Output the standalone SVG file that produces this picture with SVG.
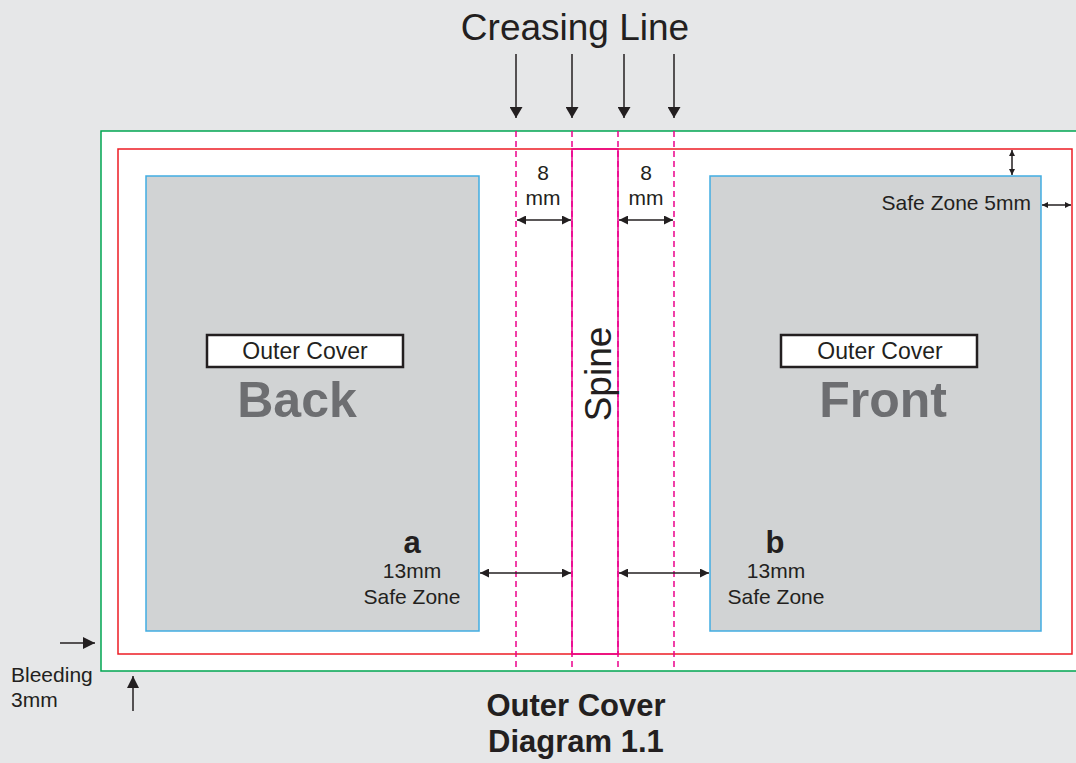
<svg xmlns="http://www.w3.org/2000/svg" width="1076" height="763" viewBox="0 0 1076 763">
<defs>
<style>
text{font-family:"Liberation Sans",Arial,sans-serif;fill:#231f20}
.lbl{font-size:21px}
.b{font-weight:bold}
.big{font-size:50px;font-weight:bold;fill:#6d6e71}
.dash{stroke:#ec008c;stroke-width:1.5;stroke-dasharray:6 4;fill:none}
.dim{stroke:#231f20;stroke-width:1.5;fill:none}
.panel{fill:#d1d3d4;stroke:#41ade2;stroke-width:1.5}
.box{fill:#ffffff;stroke:#231f20;stroke-width:2.5}
</style>
<marker id="big" viewBox="0 0 12 12" refX="12" refY="6" markerWidth="12" markerHeight="12" markerUnits="userSpaceOnUse" orient="auto"><path d="M0,0 L12,6 L0,12 Z" fill="#231f20"/></marker>
<marker id="bigv" viewBox="0 0 11 13" refX="11" refY="6.5" markerWidth="11" markerHeight="13" markerUnits="userSpaceOnUse" orient="auto"><path d="M0,0 L11,6.5 L0,13 Z" fill="#231f20"/></marker>
<marker id="sm" viewBox="0 0 9 9" refX="9" refY="4.5" markerWidth="9" markerHeight="9" markerUnits="userSpaceOnUse" orient="auto"><path d="M0,0 L9,4.5 L0,9 Z" fill="#231f20"/></marker>
<marker id="sms" viewBox="0 0 9 9" refX="0" refY="4.5" markerWidth="9" markerHeight="9" markerUnits="userSpaceOnUse" orient="auto"><path d="M9,0 L0,4.5 L9,9 Z" fill="#231f20"/></marker>
<marker id="xs" viewBox="0 0 6 6" refX="6" refY="3" markerWidth="6" markerHeight="6" markerUnits="userSpaceOnUse" orient="auto"><path d="M0,0 L6,3 L0,6 Z" fill="#231f20"/></marker>
<marker id="xss" viewBox="0 0 6 6" refX="0" refY="3" markerWidth="6" markerHeight="6" markerUnits="userSpaceOnUse" orient="auto"><path d="M6,0 L0,3 L6,6 Z" fill="#231f20"/></marker>
</defs>
<rect x="0" y="0" width="1076" height="763" fill="#e6e7e8"/>

<g id="bleed-area">
<rect x="101" y="131" width="990" height="540" fill="#ffffff" stroke="#00a651" stroke-width="1.5"/>
</g>
<g id="trim-area">
<rect x="118" y="149" width="954" height="505" fill="none" stroke="#ed1c24" stroke-width="1.5"/>
</g>

<g id="back-panel">
<rect class="panel" x="146" y="176" width="333" height="455"/>
<rect class="box" x="207" y="335" width="196" height="32"/>
<text x="305" y="359" text-anchor="middle" style="font-size:23px">Outer Cover</text>
<text class="big" x="297" y="417" text-anchor="middle">Back</text>
<text class="b" x="412" y="553" text-anchor="middle" style="font-size:31px">a</text>
<text class="lbl" x="412" y="578" text-anchor="middle">13mm</text>
<text class="lbl" x="412" y="604" text-anchor="middle">Safe Zone</text>
</g>

<g id="front-panel">
<rect class="panel" x="710" y="176" width="331" height="455"/>
<rect class="box" x="781" y="335" width="196" height="32"/>
<text x="880" y="359" text-anchor="middle" style="font-size:23px">Outer Cover</text>
<text class="big" x="883" y="417" text-anchor="middle">Front</text>
<text class="b" x="775" y="553" text-anchor="middle" style="font-size:31px">b</text>
<text class="lbl" x="776" y="578" text-anchor="middle">13mm</text>
<text class="lbl" x="776" y="604" text-anchor="middle">Safe Zone</text>
</g>

<g id="crease-lines">
<line class="dash" x1="516" y1="131" x2="516" y2="671"/>
<line class="dash" x1="572" y1="131" x2="572" y2="671"/>
<line class="dash" x1="618" y1="131" x2="618" y2="671"/>
<line class="dash" x1="674" y1="131" x2="674" y2="671"/>
</g>

<g id="spine">
<rect x="572" y="149" width="46" height="505" fill="none" stroke="#ec008c" stroke-width="1.5"/>
<text x="611" y="374" text-anchor="middle" transform="rotate(-90 611 374)" style="font-size:37px">Spine</text>
</g>

<g id="labels">
<text x="575" y="40" text-anchor="middle" style="font-size:37px">Creasing Line</text>
<text class="lbl" x="543" y="180" text-anchor="middle">8</text>
<text class="lbl" x="543" y="205" text-anchor="middle">mm</text>
<text class="lbl" x="646" y="180" text-anchor="middle">8</text>
<text class="lbl" x="646" y="205" text-anchor="middle">mm</text>
<text class="lbl" x="1031" y="210" text-anchor="end">Safe Zone 5mm</text>
<text class="lbl" x="11" y="682">Bleeding</text>
<text class="lbl" x="11" y="707">3mm</text>
<text class="b" x="576" y="716" text-anchor="middle" style="font-size:31px">Outer Cover</text>
<text class="b" x="576" y="752" text-anchor="middle" style="font-size:31px">Diagram 1.1</text>
</g>

<g id="connectors">
<line class="dim" x1="516" y1="54" x2="516" y2="118" marker-end="url(#bigv)"/>
<line class="dim" x1="572" y1="54" x2="572" y2="118" marker-end="url(#bigv)"/>
<line class="dim" x1="624" y1="54" x2="624" y2="118" marker-end="url(#bigv)"/>
<line class="dim" x1="674" y1="54" x2="674" y2="118" marker-end="url(#bigv)"/>
<line class="dim" x1="517" y1="220" x2="571" y2="220" marker-start="url(#sms)" marker-end="url(#sm)"/>
<line class="dim" x1="619" y1="220" x2="673" y2="220" marker-start="url(#sms)" marker-end="url(#sm)"/>
<line class="dim" x1="480" y1="573" x2="571" y2="573" marker-start="url(#sms)" marker-end="url(#sm)"/>
<line class="dim" x1="619" y1="573" x2="709" y2="573" marker-start="url(#sms)" marker-end="url(#sm)"/>
<line class="dim" x1="1012" y1="150" x2="1012" y2="175" stroke-width="1.2" marker-start="url(#xss)" marker-end="url(#xs)"/>
<line class="dim" x1="1042" y1="205" x2="1071" y2="205" stroke-width="1.2" marker-start="url(#xss)" marker-end="url(#xs)"/>
<line class="dim" x1="60" y1="643" x2="95" y2="643" marker-end="url(#big)"/>
<line class="dim" x1="133" y1="711" x2="133" y2="676" marker-end="url(#big)"/>
</g>
</svg>
